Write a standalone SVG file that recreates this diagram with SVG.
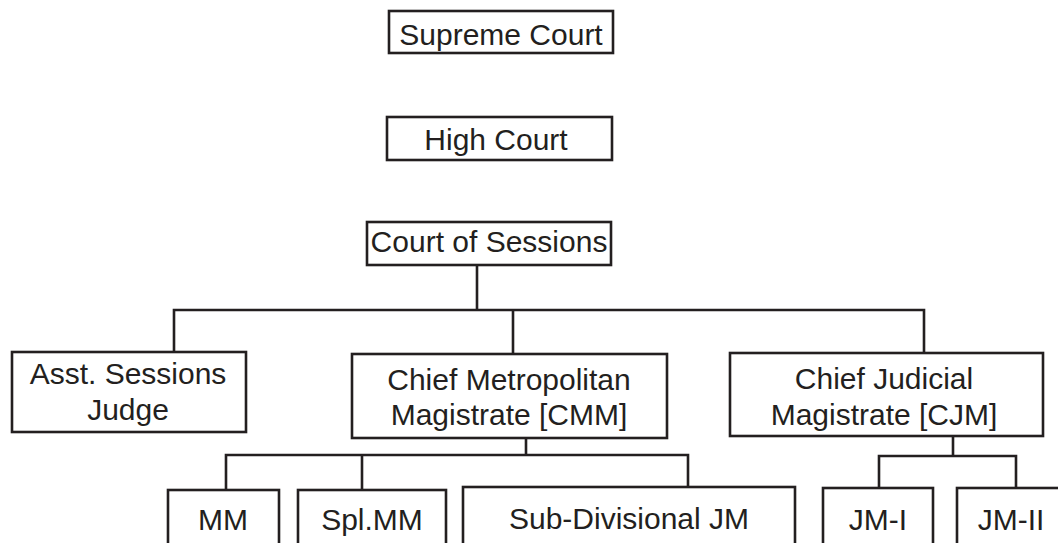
<svg xmlns="http://www.w3.org/2000/svg" width="1058" height="543" viewBox="0 0 1058 543">
<style>
.box{fill:#fff;stroke:#231f20;stroke-width:2.6}
.t{font-family:"Liberation Sans",Arial,sans-serif;font-size:30px;fill:#231f20;text-anchor:middle}
.c{fill:none;stroke:#231f20;stroke-width:2.6;stroke-linecap:square}
</style>
<rect width="1058" height="543" fill="#fff"/>
<g id="connectors">
<path class="c" d="M477,265V310M174,310H924M174,310V352M513,310V354M924,310V353"/>
<path class="c" d="M526,438V455M226,455H688M226,455V490M362,455V490M688,455V487"/>
<path class="c" d="M953,436V456M879,456H1016M879,456V488M1016,456V488"/>
</g>
<g id="supreme"><rect class="box" x="389" y="11" width="224" height="42"/><text class="t" x="501" y="45">Supreme Court</text></g>
<g id="high"><rect class="box" x="387" y="117" width="225" height="43"/><text class="t" x="496" y="150">High Court</text></g>
<g id="sessions"><rect class="box" x="367" y="222" width="244" height="43"/><text class="t" x="489" y="252">Court of Sessions</text></g>
<g id="asst"><rect class="box" x="12" y="352" width="234" height="80"/><text class="t" x="128" y="384">Asst. Sessions</text><text class="t" x="128" y="420">Judge</text></g>
<g id="cmm"><rect class="box" x="352" y="354" width="315" height="84"/><text class="t" x="509" y="390">Chief Metropolitan</text><text class="t" x="509" y="425">Magistrate [CMM]</text></g>
<g id="cjm"><rect class="box" x="730" y="353" width="313" height="83"/><text class="t" x="884" y="389">Chief Judicial</text><text class="t" x="884" y="425">Magistrate [CJM]</text></g>
<g id="mm"><rect class="box" x="168" y="490" width="111" height="70"/><text class="t" x="223" y="530">MM</text></g>
<g id="splmm"><rect class="box" x="298" y="490" width="148" height="70"/><text class="t" x="372" y="530">Spl.MM</text></g>
<g id="subdiv"><rect class="box" x="463" y="487" width="332" height="73"/><text class="t" x="629" y="529">Sub-Divisional JM</text></g>
<g id="jm1"><rect class="box" x="823" y="488" width="110" height="72"/><text class="t" x="878" y="530">JM-I</text></g>
<g id="jm2"><rect class="box" x="957" y="488" width="110" height="72"/><text class="t" x="1011" y="530">JM-II</text></g>
</svg>
